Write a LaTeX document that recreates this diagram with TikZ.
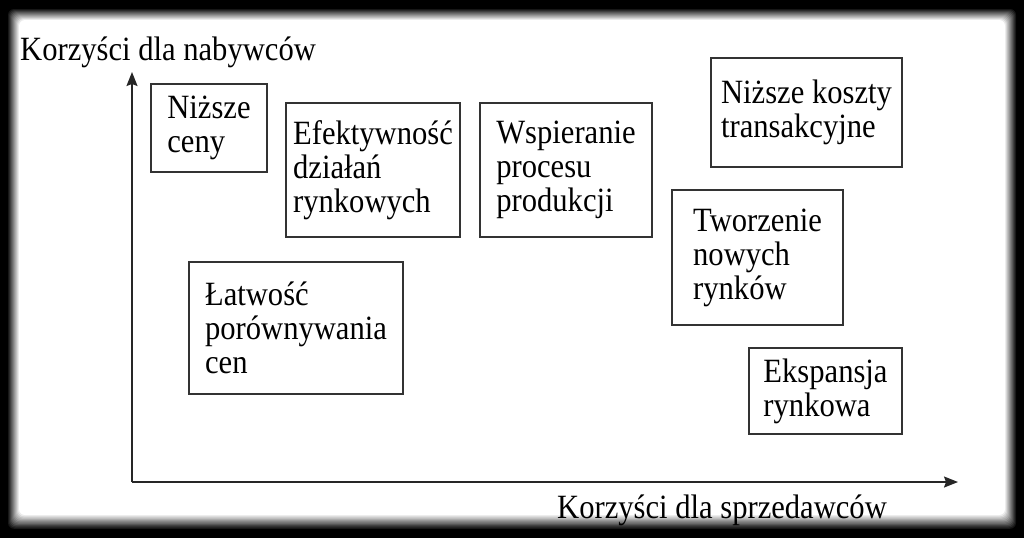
\documentclass[tikz,border=0pt]{standalone}
\usepackage{fontspec}
\setmainfont{Liberation Serif}[FakeStretch=0.9]
\usetikzlibrary{arrows.meta}
\tikzset{pole/.style={draw=black!80,line width=1.5pt,align=left,inner sep=0pt}}
\begin{document}
\begin{tikzpicture}[x=1pt,y=-1pt,font=\fontsize{34}{34}\selectfont]
  \useasboundingbox (0,0) rectangle (1024,538);
  \fill[black] (0,0) rectangle (1024,538);
  \foreach \k in {0,...,12}{
    \pgfmathtruncatemacro\g{100-100*\k/12}
    \fill[black!\g,rounded corners=6pt] (7+\k,8+\k) rectangle (1017-\k,530-1.25*\k);
  }

  \coordinate (O) at (132,482);
  \coordinate (Yend) at (132,72);
  \coordinate (Xend) at (958,482);
  \draw[black!85,line width=1.6pt,-{Stealth[length=14pt,width=11pt,inset=2pt]}] (O) -- (Yend);
  \draw[black!85,line width=1.6pt,-{Stealth[length=14pt,width=11pt,inset=2pt]}] (O) -- (Xend);

  \node[anchor=base west,inner sep=0pt] (KN) at (20,60){Korzyści dla nabywców};
  \node[anchor=base west,inner sep=0pt] (KS) at (557,518){Korzyści dla sprzedawców};

  \node[pole,minimum width=116pt,minimum height=88pt] (NC) at (209,128){Niższe\\ceny};
  \node[pole,minimum width=174pt,minimum height=134pt] (EF) at (373,170){Efektywność\\działań\\rynkowych};
  \node[pole,minimum width=172pt,minimum height=134pt] (WP) at (566,170){Wspieranie\\procesu\\produkcji};
  \node[pole,minimum width=191pt,minimum height=109pt] (NK) at (806.5,112.5){Niższe koszty\\transakcyjne};
  \node[pole,minimum width=171pt,minimum height=135pt] (TW) at (757.5,257.5){Tworzenie\\nowych\\rynków};
  \node[pole,minimum width=214pt,minimum height=132pt] (LP) at (296,328){Łatwość\\porównywania\\cen};
  \node[pole,minimum width=153pt,minimum height=86pt] (ER) at (825.5,391){Ekspansja\\rynkowa};
\end{tikzpicture}
\end{document}
